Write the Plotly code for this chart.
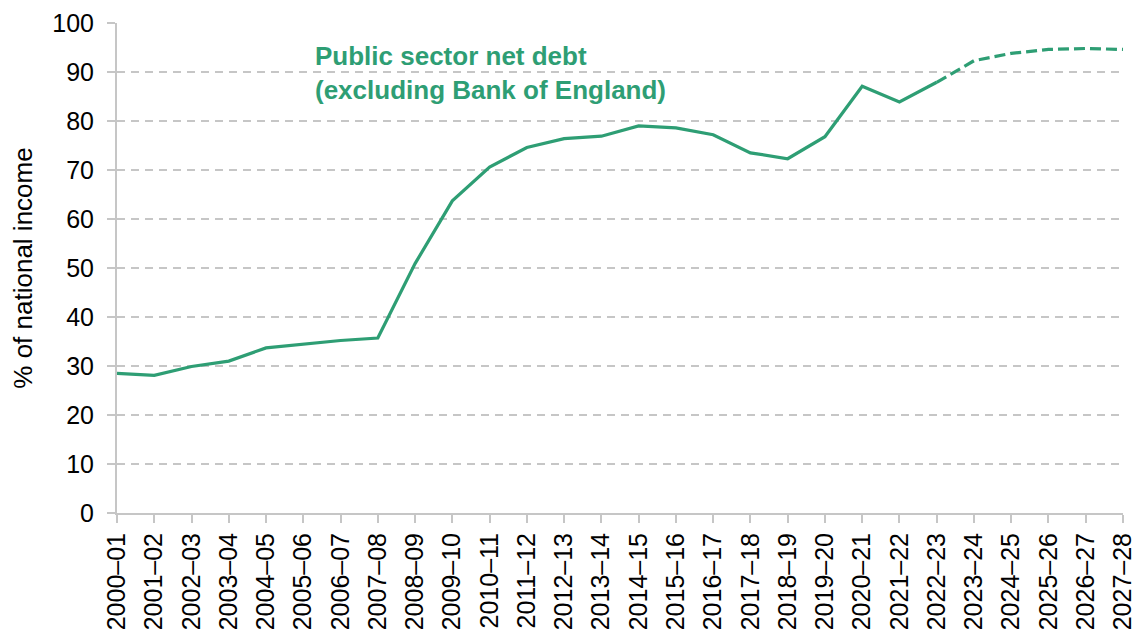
import plotly.graph_objects as go

years = ["2000–01", "2001–02", "2002–03", "2003–04", "2004–05", "2005–06", "2006–07",
         "2007–08", "2008–09", "2009–10", "2010–11", "2011–12", "2012–13", "2013–14",
         "2014–15", "2015–16", "2016–17", "2017–18", "2018–19", "2019–20", "2020–21",
         "2021–22", "2022–23", "2023–24", "2024–25", "2025–26", "2026–27", "2027–28"]

outturn = [28.5, 28.1, 29.9, 31.0, 33.7, 34.5, 35.2, 35.7, 50.9, 63.7, 70.6, 74.6,
           76.4, 76.9, 79.0, 78.6, 77.2, 73.5, 72.3, 76.8, 87.1, 83.9, 87.9]
forecast_years = years[22:]
forecast = [87.9, 92.3, 93.8, 94.6, 94.8, 94.6]

green = "rgb(46,158,116)"
grey = "#c6c6c6"
font_family = "Liberation Sans, Arial, sans-serif"

x_out = list(range(len(outturn)))
x_fc = list(range(22, 22 + len(forecast)))

fig = go.Figure()
fig.add_trace(go.Scatter(x=x_out, y=outturn, mode="lines",
                         line=dict(color=green, width=3.2), showlegend=False,
                         customdata=years[:len(outturn)],
                         hovertemplate="%{customdata}: %{y}<extra></extra>"))
fig.add_trace(go.Scatter(x=x_fc, y=forecast, mode="lines",
                         line=dict(color=green, width=3.2, dash="11px,5px"), showlegend=False,
                         customdata=forecast_years,
                         hovertemplate="%{customdata}: %{y}<extra></extra>"))

fig.add_annotation(x=0.195, xref="paper", y=89.8, yref="y", xanchor="left", yanchor="middle",
                   text="<b>Public sector net debt<br>(excluding Bank of England)</b>",
                   showarrow=False, align="left",
                   font=dict(family=font_family, size=26, color=green))

fig.update_layout(
    width=1138, height=635,
    margin=dict(l=117, r=15, t=23, b=122),
    plot_bgcolor="white", paper_bgcolor="white",
    font=dict(family=font_family, size=25, color="black"),
    xaxis=dict(range=[0, 27], tickmode="array", tickvals=list(range(len(years))),
               ticktext=years, tickangle=-90, showgrid=False, showline=True,
               linecolor=grey, linewidth=2, ticks="outside", ticklen=8,
               tickcolor=grey, tickwidth=2, zeroline=False, automargin=False,
               tickfont=dict(size=25, color="black")),
    yaxis=dict(range=[0, 100], tickmode="array", tickvals=list(range(0, 101, 10)),
               showgrid=True, gridcolor=grey, gridwidth=1.5, griddash="8px,6px",
               showline=True, linecolor=grey, linewidth=2, ticks="outside", ticklen=8,
               tickcolor=grey, tickwidth=2, zeroline=False, ticklabelstandoff=8,
               automargin=False,
               title=dict(text="% of national income", font=dict(size=26), standoff=12),
               tickfont=dict(size=25, color="black")),
)

fig.write_html("out.html")
